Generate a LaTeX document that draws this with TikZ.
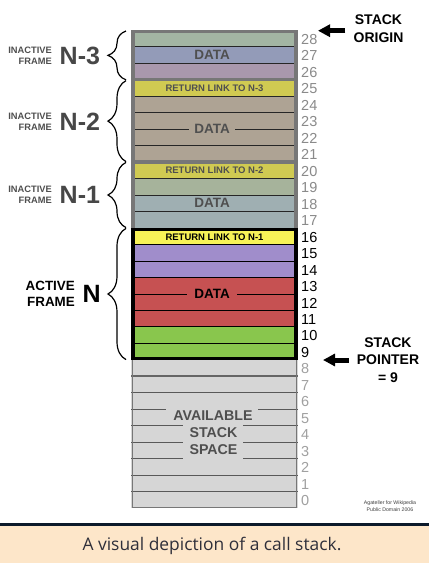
\documentclass[tikz,border=0pt]{standalone}
\usepackage{fontspec}
\setmainfont{Liberation Sans}
\newfontfamily\capfont{Open Sans}
\usetikzlibrary{decorations.pathreplacing,arrows.meta}
\definecolor{cA}{HTML}{A3B5A3}
\definecolor{cB}{HTML}{939BB8}
\definecolor{cC}{HTML}{A998AD}
\definecolor{cRL}{HTML}{D0CA52}
\definecolor{cTan}{HTML}{AEA394}
\definecolor{cD}{HTML}{A6B39B}
\definecolor{cE}{HTML}{9FAFB2}
\definecolor{cYel}{HTML}{F7F257}
\definecolor{cLav}{HTML}{A08DCB}
\definecolor{cRed}{HTML}{C65152}
\definecolor{cGrn}{HTML}{89C64D}
\definecolor{cGray}{HTML}{D6D6D6}
\definecolor{frameGray}{HTML}{777777}
\definecolor{lblGray}{HTML}{4F4F4F}
\definecolor{numGray}{HTML}{8A8A8A}
\definecolor{numLight}{HTML}{A0A0A0}
\definecolor{capbg}{HTML}{FDE6C9}
\definecolor{capline}{HTML}{0C1A2B}
\definecolor{captext}{HTML}{2F2F3A}
\tikzset{
  rowlbl/.style={font=\bfseries\fontsize{9.5}{10}\selectfont, inner sep=0pt},
  datalbl/.style={font=\bfseries\fontsize{13.5}{14}\selectfont, inner sep=0pt},
  numlbl/.style={anchor=west, font=\fontsize{14.5}{14.5}\selectfont, inner sep=0pt},
  smalllbl/.style={align=right, anchor=east, font=\bfseries\fontsize{9.3}{11}\selectfont, text=lblGray, inner sep=0pt},
  actlbl/.style={align=right, anchor=east, font=\bfseries\fontsize{13.4}{16}\selectfont, inner sep=0pt},
  biglbl/.style={anchor=west, font=\bfseries\fontsize{25}{25}\selectfont, inner sep=0pt},
  brc/.style={decorate, decoration={brace, amplitude=18pt}, line width=1.2pt},
  ptr/.style={line width=5pt, -{Triangle[length=12pt,width=12pt]}},
  sidelbl/.style={align=center, font=\bfseries\fontsize{14}{17.5}\selectfont, inner sep=0pt},
  thinline/.style={line width=0.9pt, draw=#1},
}
\newcommand{\rowT}[1]{\pgfmathsetmacro\tp{30.3+(28-#1)*16.48}}
\begin{document}
\begin{tikzpicture}[x=1pt,y=-1pt]
\useasboundingbox (0,0) rectangle (429,563);
\fill[white] (0,0) rectangle (429,563);
% row fills
\foreach \k/\c in {28/cA,27/cB,26/cC,25/cRL,24/cTan,23/cTan,22/cTan,21/cTan,20/cRL,19/cD,18/cE,17/cE,16/cYel,15/cLav,14/cLav,13/cRed,12/cRed,11/cRed,10/cGrn,9/cGrn,8/cGray,7/cGray,6/cGray,5/cGray,4/cGray,3/cGray,2/cGray,1/cGray,0/cGray}
  {\rowT{\k}\fill[\c] (131,\tp) rectangle (298,\tp+16.48);}
% thin separators
\foreach \k in {27,26,24,23,22,21,19,18,17}
  {\rowT{\k}\draw[thinline={black!85}] (131,\tp) -- (298,\tp);}
\foreach \k in {15,14,13,12,11,10,9}
  {\rowT{\k}\draw[thinline=black] (131,\tp) -- (298,\tp);}
\foreach \k in {6,5,4,3,2,1,0}
  {\rowT{\k}\draw[thinline={black!65}] (131,\tp) -- (298,\tp);}
\rowT{7}\draw[line width=2pt, black!60] (131,\tp) -- (298,\tp);
% available space border
\rowT{0}
\draw[line width=1.2pt, frameGray] (132.2,360) -- (132.2,\tp+16.48-0.6) -- (296.8,\tp+16.48-0.6) -- (296.8,360);
% inactive frame borders
\rowT{25}\draw[line width=3.5pt, frameGray] (131,\tp) -- (298,\tp);
\rowT{20}\draw[line width=3.5pt, frameGray] (131,\tp) -- (298,\tp);
\draw[line width=3.5pt, frameGray] (133,228) -- (133,31.5) -- (296,31.5) -- (296,228);
% active frame border
\draw[line width=3.5pt, black] (133.2,229.5) rectangle (295.8,358.5);
% return links
\rowT{25}\node[rowlbl, text=lblGray] (rl3) at (214.5,\tp+8.24) {RETURN LINK TO N-3};
\rowT{20}\node[rowlbl, text=lblGray] (rl2) at (214.5,\tp+8.24) {RETURN LINK TO N-2};
\rowT{16}\node[rowlbl, text=black] (rl1) at (214.5,\tp+8.7) {RETURN LINK TO N-1};
% data labels
\rowT{27}\node[datalbl, text=lblGray] (d3) at (212,\tp+8.24) {DATA};
\rowT{22}\node[datalbl, text=lblGray, fill=cTan, inner xsep=5.5pt, inner ysep=2pt] (d2) at (212,\tp) {DATA};
\rowT{18}\node[datalbl, text=lblGray] (d1) at (212,\tp+8.24) {DATA};
\rowT{12}\node[datalbl, text=black, fill=cRed, inner xsep=7.5pt, inner ysep=2pt] (d0) at (212,\tp) {DATA};
% available stack space
\fill[cGray] (166,406.5) rectangle (258,423.5);
\fill[cGray] (183,423.5) rectangle (243,460.5);
\node[datalbl, text=lblGray, anchor=base, font=\bfseries\fontsize{14.2}{15}\selectfont] (av1) at (213,420.3) {AVAILABLE};
\node[datalbl, text=lblGray, anchor=base, font=\bfseries\fontsize{14.2}{15}\selectfont] (av2) at (213.5,437.3) {STACK};
\node[datalbl, text=lblGray, anchor=base, font=\bfseries\fontsize{14.2}{15}\selectfont] (av3) at (213.5,454.3) {SPACE};
% numbers
\foreach \k in {28,...,17}
  {\rowT{\k}\node[numlbl, text=numGray] (n\k) at (301,\tp+9) {\k};}
\foreach \k in {16,...,9}
  {\rowT{\k}\node[numlbl, text=black] (n\k) at (301,\tp+9) {\k};}
\foreach \k in {8,...,0}
  {\rowT{\k}\node[numlbl, text=numLight] (n\k) at (301,\tp+9) {\k};}
% braces
\coordinate (b3t) at (126,31); \coordinate (b3b) at (126,79.8);
\coordinate (b2t) at (126,80.6); \coordinate (b2b) at (126,161.6);
\coordinate (b1t) at (126,162.4); \coordinate (b1b) at (126,227.6);
\coordinate (b0t) at (126,228.4); \coordinate (b0b) at (126,359.6);
\draw[brc] (b3b) -- (b3t);
\draw[brc] (b2b) -- (b2t);
\draw[brc] (b1b) -- (b1t);
\draw[brc] (b0b) -- (b0t);
% left labels
\node[smalllbl] (if3) at (52,55.4) {INACTIVE\\FRAME};
\node[biglbl, text=lblGray!90!black] (f3) at (59.5,55.5) {N-3};
\node[smalllbl] (if2) at (52,121.5) {INACTIVE\\FRAME};
\node[biglbl, text=lblGray!90!black] (f2) at (59.5,121.5) {N-2};
\node[smalllbl] (if1) at (52,195) {INACTIVE\\FRAME};
\node[biglbl, text=lblGray!90!black] (f1) at (59.5,195) {N-1};
\node[actlbl] (af) at (75,294) {ACTIVE\\FRAME};
\node[biglbl, text=black] (f0) at (82.5,294) {N};
% right labels and arrows
\node[sidelbl] (so) at (378.5,28.5) {STACK\\ORIGIN};
\coordinate (sotip) at (318,30.7);
\draw[ptr] ([xshift=-8pt,yshift=-2.2pt]so.west) -- (sotip);
\node[sidelbl] (sp) at (388,360) {STACK\\POINTER\\= 9};
\coordinate (sptip) at (323,360);
\draw[ptr] ([xshift=-8pt]sp.west) -- (sptip);
% credits
\node[align=center, font=\fontsize{5.2}{6.8}\selectfont, text=black!75, inner sep=0pt] (cr) at (390,506.5) {Agateller for Wikipedia\\Public Domain 2006};
% caption
\fill[capbg] (0,526) rectangle (429,563);
\fill[capline] (0,522.7) rectangle (429,526);
\node[anchor=base, font=\capfont\fontsize{17.4}{19}\selectfont, text=captext, inner sep=0pt] (cap) at (212,550) {A visual depiction of a call stack.};
\end{tikzpicture}
\end{document}
